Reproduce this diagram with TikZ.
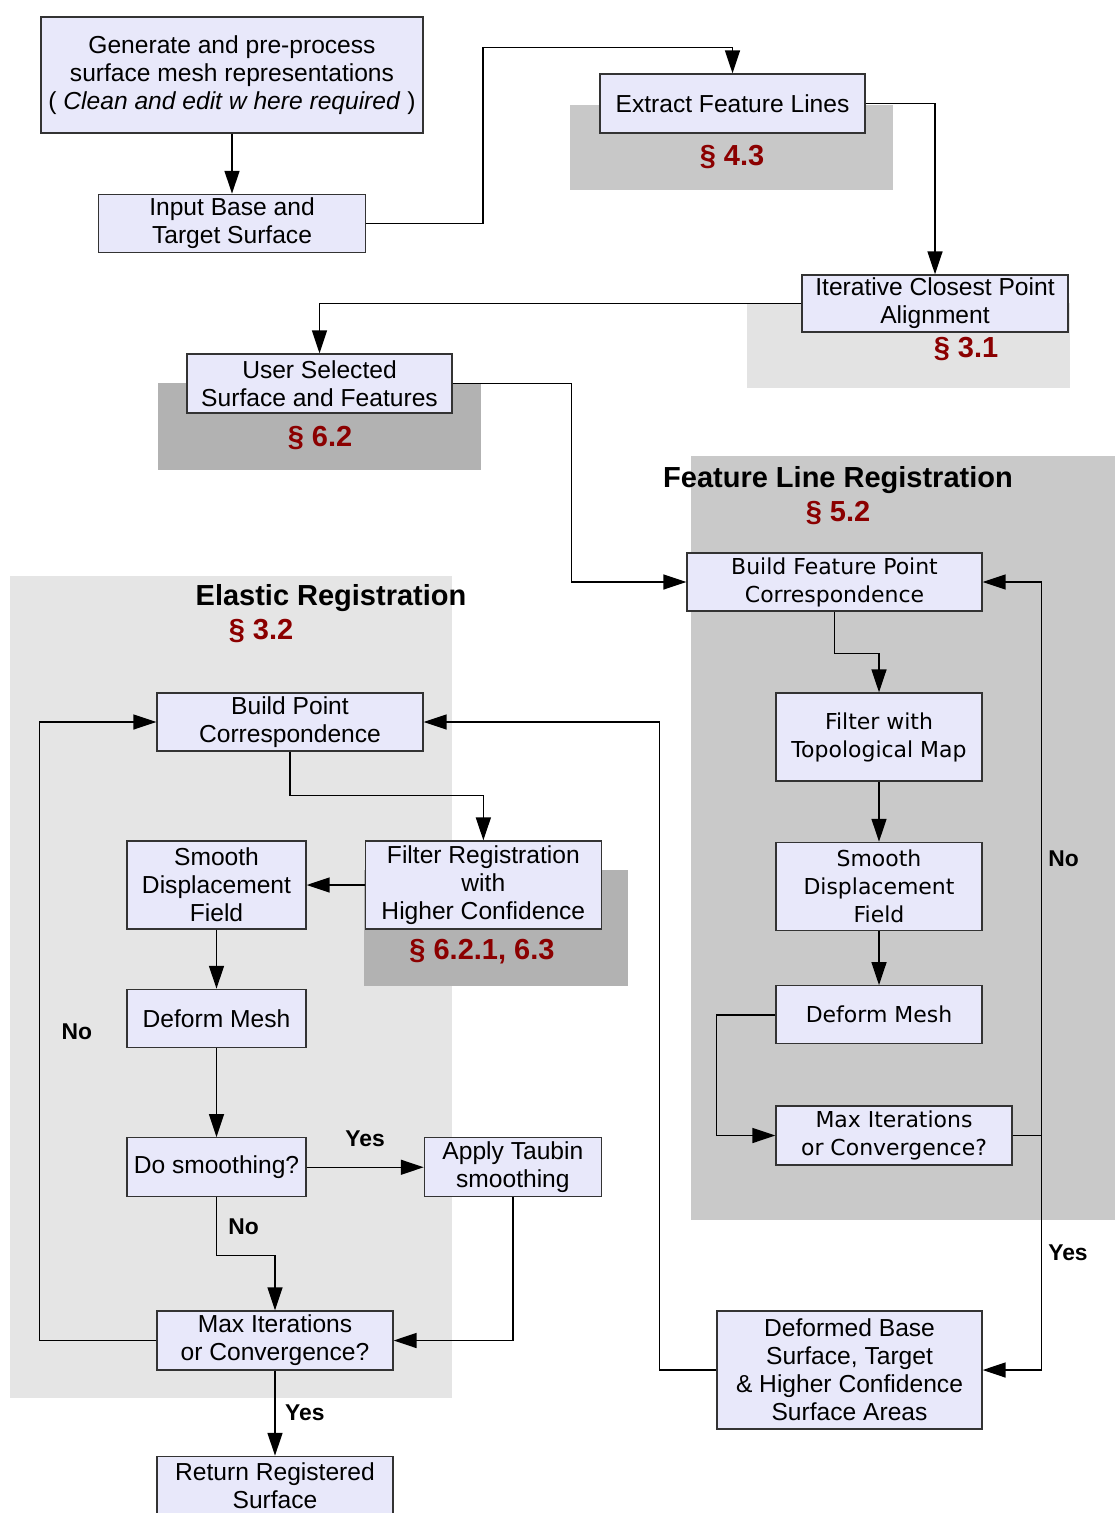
\documentclass[tikz,border=0pt]{standalone}
\usepackage{fontspec}
\setmainfont{Liberation Sans}
\newfontfamily\verafont{DejaVu Sans}
\usepackage{xcolor}
\usetikzlibrary{arrows.meta,positioning,calc}

\definecolor{boxfill}{RGB}{232,232,250}
\definecolor{boxline}{RGB}{51,51,51}
\definecolor{secred}{RGB}{139,0,0}
\definecolor{panellight}{RGB}{229,229,229}
\definecolor{paneldark}{RGB}{201,201,201}
\definecolor{shadelight}{RGB}{227,227,227}
\definecolor{shademid}{RGB}{200,200,200}
\definecolor{shadedark}{RGB}{178,178,178}

\begin{document}
\begin{tikzpicture}[
    x=0.02cm, y=-0.02cm,
    stepbox/.style={rectangle, draw=boxline, fill=boxfill, line width=0.8pt, inner sep=1pt, align=center, minimum height=1.16cm, font={\fontsize{14}{15.9}\selectfont}},
    featbox/.style={stepbox, font={\verafont\fontsize{12.5}{15.9}\selectfont}},
    secnum/.style={text=secred, inner sep=1pt, font={\bfseries\fontsize{16.5}{18}\selectfont}},
    paneltitle/.style={inner sep=1pt, font={\bfseries\fontsize{16.5}{18}\selectfont}},
    answer/.style={font={\bfseries\fontsize{13}{15}\selectfont}},
    arrow/.style={line width=0.85pt, -{Triangle[length=13pt, width=8.5pt]}}
]
\useasboundingbox (0,0) rectangle (1115,1513);

% --- BACKGROUND SHADES ---
\fill[shademid]   (570,105) rectangle (893,190);
\fill[shadelight] (747,303) rectangle (1070,388);
\fill[shadedark]  (158,383) rectangle (481,470);
\fill[panellight] (10,576) rectangle (452,1398);
\fill[paneldark]  (691,456) rectangle (1115,1220);
\fill[shadedark]  (364,870) rectangle (628,986);

% --- PRE-PROCESSING ---
\node (gen)     [stepbox, minimum width=7.64cm, minimum height=2.32cm] at (232,75) {Generate and pre-process\\surface mesh representations\\( \textit{Clean and edit w here required} )};
\node (input)   [stepbox, below=1.2cm of gen, minimum width=5.34cm] {Input Base and\\Target Surface};
\node (extract) [stepbox, minimum width=5.3cm, minimum height=1.18cm] at (732.5,103.5) {Extract Feature Lines};
\node (icp)     [stepbox, minimum width=5.32cm, minimum height=1.14cm] at (935,303.5) {Iterative Closest Point\\Alignment};
\node (user)    [stepbox, minimum width=5.3cm, minimum height=1.18cm] at (319.5,383.5) {User Selected\\Surface and Features};

\node (sec43) [secnum] at (732,157) {§ 4.3};
\node (sec31) [secnum] at (966,349) {§ 3.1};
\node (sec62) [secnum] at (320,438) {§ 6.2};

% --- FEATURE LINE REGISTRATION ---
\node (fltitle) [paneltitle] at (838,480) {Feature Line Registration};
\node (sec52)   [secnum] at (838,513) {§ 5.2};

\node (bfpc) [featbox, minimum width=5.9cm] at (834.5,582) {Build Feature Point\\Correspondence};
\node (ftm)  [featbox, minimum width=4.12cm, minimum height=1.76cm] at (879,737) {Filter with\\Topological Map};
\node (sdf2) [featbox, below=1.2cm of ftm, minimum width=4.12cm, minimum height=1.76cm] {Smooth\\Displacement\\Field};
\node (dm2)  [featbox, below=1.08cm of sdf2, minimum width=4.12cm] {Deform Mesh};
\node (mic2) [featbox, minimum width=4.72cm, minimum height=1.18cm] at (894,1135.5) {Max Iterations\\or Convergence?};
\node (dbs)  [stepbox, minimum width=5.3cm, minimum height=2.36cm] at (849.5,1370) {Deformed Base\\Surface, Target\\\& Higher Confidence\\Surface Areas};

% --- ELASTIC REGISTRATION ---
\node (ertitle) [paneltitle] at (331,598) {Elastic Registration};
\node (sec32)   [secnum] at (261,631) {§ 3.2};

\node (bpc)  [stepbox, minimum width=5.32cm] at (290,722) {Build Point\\Correspondence};
\node (sdf1) [stepbox, minimum width=3.58cm, minimum height=1.76cm] at (216.5,885) {Smooth\\Displacement\\Field};
\node (frhc) [stepbox, right=1.16cm of sdf1, minimum width=4.72cm, minimum height=1.76cm] {Filter Registration\\with\\Higher Confidence};
\node (sec621) [secnum] at (482,952) {§ 6.2.1, 6.3};
\node (dm1)  [stepbox, below=1.18cm of sdf1, minimum width=3.58cm] {Deform Mesh};
\node (ds)   [stepbox, below=1.78cm of dm1, minimum width=3.58cm, minimum height=1.18cm] {Do smoothing?};
\node (ats)  [stepbox, right=2.34cm of ds, minimum width=3.54cm, minimum height=1.18cm] {Apply Taubin\\smoothing};
\node (mic1) [stepbox, minimum width=4.72cm, minimum height=1.18cm] at (275,1340.5) {Max Iterations\\or Convergence?};
\node (rrs)  [stepbox, below=1.7cm of mic1, minimum width=4.72cm] {Return Registered\\Surface};

% --- PATHS ---
% Top part
\draw [arrow] (gen) -- (input);
\draw [arrow] (input.east) -- ++(117,0) -- ++(0,-176) -| (extract.north);
\draw [arrow] (extract.east) -| (icp.north);
\draw [arrow] (icp.west) -| (user.north);
\draw [arrow] (user.east) -- ++(119,0) |- (bfpc.west);

% Feature line loop
\draw [arrow] (bfpc.south) -- ++(0,42) -| (ftm.north);
\draw [arrow] (ftm) -- (sdf2);
\draw [arrow] (sdf2) -- (dm2);
\draw [arrow] (dm2.west) -- ++(-59,0) |- (mic2.west);
\draw [arrow] (mic2.east) -- ++(29,0) |- (bfpc.east) node[answer, pos=0.25, right] {No};
\draw [arrow] (mic2.east) -- ++(29,0) |- (dbs.east) node[answer, pos=0.25, right] {Yes};

% Hand over to elastic registration
\draw [arrow] (dbs.west) -- ++(-57,0) |- (bpc.east);

% Elastic loop
\draw [arrow] (bpc.south) -- ++(0,44) -| (frhc.north);
\draw [arrow] (frhc) -- (sdf1);
\draw [arrow] (sdf1) -- (dm1);
\draw [arrow] (dm1) -- (ds);
\draw [arrow] (ds) -- node[answer, above=8pt] {Yes} (ats);
\draw [arrow] (ds.south) -- ++(0,58) node[answer, midway, right, xshift=3pt] {No} -| (mic1.north);
\draw [arrow] (ats.south) |- (mic1.east);
\draw [arrow] (mic1.west) -- ++(-117,0) |- (bpc.west) node[answer, pos=0.25, right, xshift=9pt] {No};
\draw [arrow] (mic1) -- node[answer, right, xshift=2pt] {Yes} (rrs);

\end{tikzpicture}
\end{document}
